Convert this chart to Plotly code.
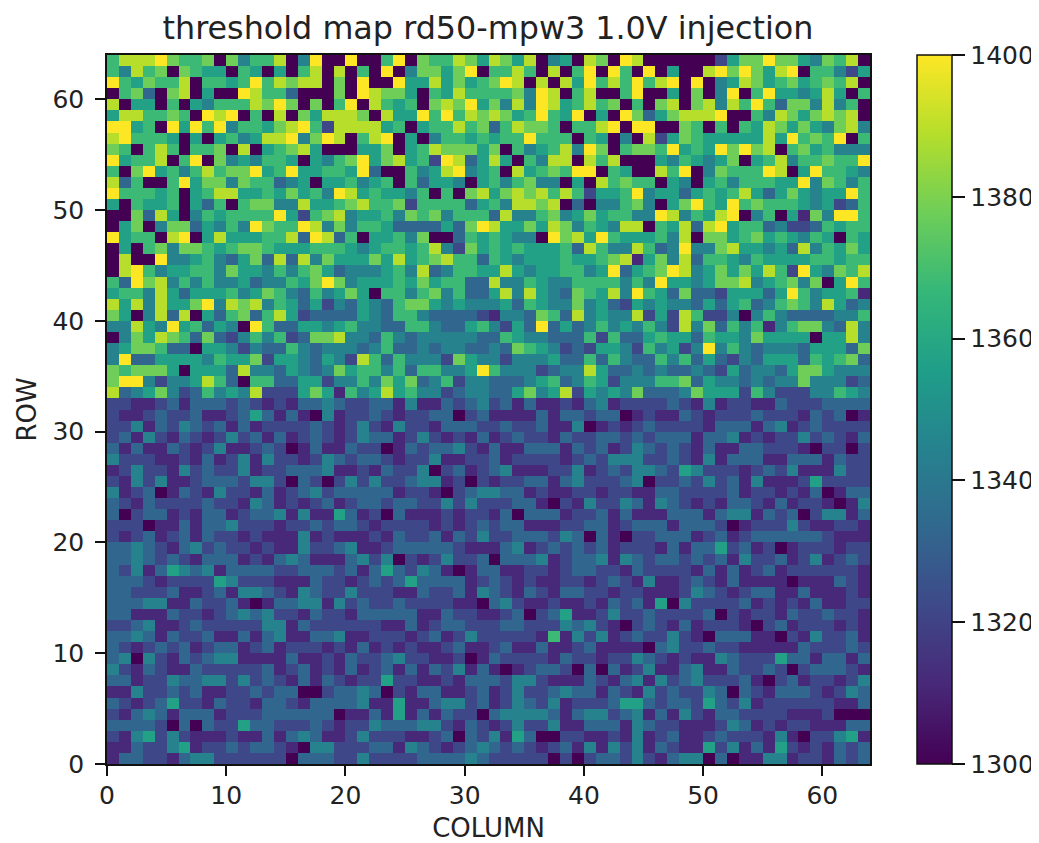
import plotly.graph_objects as go

TITLE = "threshold map rd50-mpw3 1.0V injection"
X_LABEL = "COLUMN"
Y_LABEL = "ROW"
X_TICKS = [0, 10, 20, 30, 40, 50, 60]
Y_TICKS = [0, 10, 20, 30, 40, 50, 60]
CB_TICKS = [1300, 1320, 1340, 1360, 1380, 1400]
# Value read for each shade digit 0..9
SHADE_VALUES = [1300, 1311, 1322, 1333, 1345, 1357, 1368, 1378, 1389, 1400]
VIRIDIS = ["#440154", "#482878", "#3e4989", "#31688e", "#26828e", "#1f9e89",
           "#35b779", "#6ece58", "#b5de2b", "#fde725"]

# Row 0 (bottom) first; each character is one cell's shade
CELLS_LOW = [
    "13322134422222203332242222333343" "22222020233242134403011441221323",
    "11322451223233210442223314321234" "32321231414241321152413152121323",
    "21452421112113134311242221123032" "41530022112141231123222141022451",
    "33332030322533222321224333442132" "12422411333143221112431212211133",
    "21343133312223333330113151313220" "34444313442341314213322221112000",
    "32123522132213321333341151134423" "12432412223553233253241222222113",
    "11422323112232330023343021331123" "12422343313214232243032133321243",
    "33122433442423213132122522112133" "32442111321341423422231023122124",
    "42132113222223123121312313132413" "10123320303124113411322320233321",
    "34042132344111131121322342211201" "32222132212243212114322253313313",
    "32123231233123122212131212112311" "23113112311110342232211111322232",
    "33431322311313411334112221231242" "22221614241232242103331102142231",
    "22341123222224413222222113123322" "23322243421023213122210231222121",
    "33111322123434221322133333113221" "12302351124223222230212213223221",
    "33344113223101334414232232222110" "34211211213231504222231212131122",
    "33222311231443214322422211322314" "32132133221221112432123311311121",
    "33321222254222111322123235333312" "32121122123214112321311110111321",
    "32413543413333223332313532431013" "31122123322132222131312312222221",
    "33432321333121343111342402124223" "03334123341432332323142231241232",
    "33432134232212114223411233333211" "13412323231222131335231201222122",
    "21231231322121114121112132231324" "22333243031022333123123333332111",
    "22201131334222122323321222212123" "23311122331233313332012224211221",
    "30233121331233414115312031112122" "13033312231311133313441323024413",
    "32132222322143121231233233224242" "22331021422431432121332131221014",
    "41230132142213123423333312210234" "43312112212211332222312212130133",
    "21424112333244203202424223441202" "12233134222340223242314111252222",
    "12422142322412233341121322402312" "34111224123244325422212324111422",
    "42221121312414221243233212241122" "31222212324442232141333113331322",
    "31311321241123201311322013233421" "31133313231243232131133222102202",
    "23142132124231312321243312421213" "12322132233232333133412122423213",
    "22413243231312222321242142213332" "23223114012123222213331341232222",
    "21123223112353131041223212233023" "11113133233012113212223222132301",
    "22112313332321213343223314113234" "23131121341222232141221132223333",
]
CELLS_HIGH = [
    "83457423645482225751645856442344" "33574582545473334755526422244654",
    "79942445863066335524464757346244" "33345634652444667354434344744423",
    "76777505553844354347566463664459" "64442344853343433432534435775444",
    "49335555465572554354286364442754" "42444533636433646353243555365673",
    "45776330554243364344434633434433" "43765423255426452494643444355537",
    "04758763732464623778443643444443" "36544333626335655365547555505584",
    "44854956354096335545644336643356" "42539353464546428473646146774384",
    "75048380536736852333354366433332" "14437638454482528622404643333446",
    "85848557948784653524354367754544" "45365447453254544353563467648534",
    "56648535556457643645750664674633" "58485437658496537332555359645561",
    "63978464644534465797455565756633" "84465446666464955457784567470596",
    "08964556647554646753444564834665" "58545566459356798457575862954768",
    "08009445643573838475557585678663" "65455565567815748366546555566566",
    "05067477656776555666545665684275" "65655563864486349447855453846575",
    "95660890585556683983605564700365" "65440978596555648077567565465065",
    "05704773546497669847466533335379" "85575874654880658389566342236566",
    "00738504656666952678455647674666" "38446745756644984658904605174996",
    "50655605360677448556786672666635" "64887803044674057965967666545236",
    "96665605688556575649856554606078" "57878686255694553565685357545596",
    "83600695774766345055645606355405" "64674405086766054056466655947646",
    "60795646867795695566593006458945" "60856769906500869047666980596654",
    "95668069074546650546795785629835" "85064880868000546545705684667669",
    "76068606670805678500055705687775" "70645684970677695659797806756444",
    "89666505056458894798068905046656" "56696660650408257655555859676906",
    "99560959694665789628888560566867" "36877606689099007606065875754784",
    "58866760989060807588870855969687" "87569659050973578889006487578780",
    "80550605466687970706908656078795" "74849856867060780784869637748460",
    "06730780500986630007098775065866" "66749806800690050704906955458506",
    "96576680665696878807090095585756" "79808085968696890904587567567680",
    "64867076550650506808060904775790" "66860806909609050089797589066425",
    "68889766707466804900900690766875" "87580450870980000002577977547680",
]

rows = CELLS_LOW + CELLS_HIGH
z = [[SHADE_VALUES[int(ch)] for ch in row] for row in rows]
colorscale = [[i / 9, c] for i, c in enumerate(VIRIDIS)]
TICK_FONT = dict(family="DejaVu Sans", size=25, color="#222")
LABEL_FONT = dict(family="DejaVu Sans", size=26, color="#222")

fig = go.Figure(go.Heatmap(
    z=z, x0=0.5, dx=1, y0=0.5, dy=1,
    zmin=1300, zmax=1400, zsmooth=False,
    colorscale=colorscale,
    colorbar=dict(
        thickness=35, thicknessmode="pixels", len=1, lenmode="fraction",
        x=1.0616, xanchor="left", xpad=0, y=0.5, yanchor="middle", ypad=0,
        tickvals=CB_TICKS, tickprefix="\u00a0", ticks="outside", ticklen=13, tickwidth=1.5,
        tickcolor="#111", outlinewidth=1.5, outlinecolor="#111",
        tickfont=TICK_FONT,
    ),
))

AXIS = dict(
    range=[0, 64], showgrid=False, zeroline=False, showline=True, mirror=True,
    linecolor="#111", linewidth=1.5, ticks="outside", ticklen=10, tickwidth=1.5,
    tickcolor="#111", tickfont=TICK_FONT,
)
fig.update_layout(
    width=1031, height=835,
    margin=dict(l=99, r=169, t=47, b=79, autoexpand=False),
    paper_bgcolor="white", plot_bgcolor="white",
    font=dict(family="DejaVu Sans", color="#222"),
    title=dict(text=TITLE, x=480 / 1031, xanchor="center", y=1 - 20 / 835, yanchor="middle",
               font=dict(family="DejaVu Sans", size=31.8, color="#222")),
    xaxis=dict(AXIS, tickvals=X_TICKS, ticklabelstandoff=-2,
               title=dict(text=X_LABEL, standoff=26, font=LABEL_FONT)),
    yaxis=dict(AXIS, tickvals=Y_TICKS, ticklabelstandoff=6,
               title=dict(text=Y_LABEL, standoff=8, font=LABEL_FONT)),
)
fig.write_html("out.html")
